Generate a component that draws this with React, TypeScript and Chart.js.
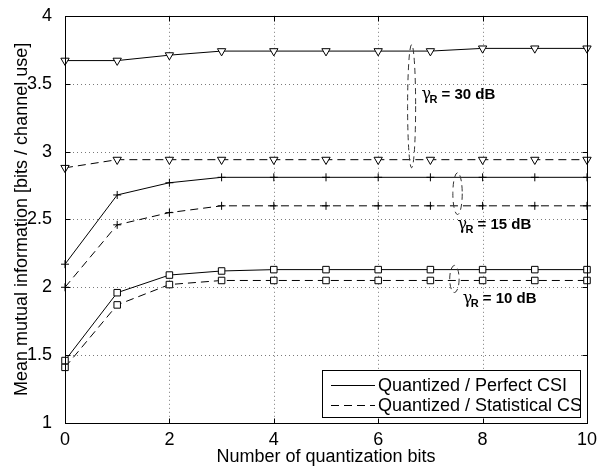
import React, { useEffect, useRef } from "react";
import { Chart, registerables } from "chart.js";

Chart.register(...registerables);

// ---- data ----
const bits = [0, 1, 2, 3, 4, 5, 6, 7, 8, 9, 10];
const perfect30 = [3.67, 3.67, 3.71, 3.74, 3.74, 3.74, 3.74, 3.74, 3.76, 3.76, 3.76];
const statistical30 = [2.88, 2.94, 2.94, 2.94, 2.94, 2.94, 2.94, 2.94, 2.94, 2.94, 2.94];
const perfect15 = [2.17, 2.68, 2.77, 2.81, 2.81, 2.81, 2.81, 2.81, 2.81, 2.81, 2.81];
const statistical15 = [2.0, 2.46, 2.55, 2.6, 2.6, 2.6, 2.6, 2.6, 2.6, 2.6, 2.6];
const perfect10 = [1.46, 1.96, 2.09, 2.12, 2.13, 2.13, 2.13, 2.13, 2.13, 2.13, 2.13];
const statistical10 = [1.41, 1.87, 2.02, 2.05, 2.05, 2.05, 2.05, 2.05, 2.05, 2.05, 2.05];
const legendLabels = ["Quantized / Perfect CSI", "Quantized / Statistical CS"];
const snrLabels = ["30 dB", "15 dB", "10 dB"];
const xTitle = "Number of quantization bits";
const yTitle = "Mean mutual information [bits / channel use]";

// annotation geometry (data units)
const ellipses = [
  { cx: 6.64, cy: 3.334, rx: 0.077, ry: 0.454 },
  { cx: 7.52, cy: 2.69, rx: 0.09, ry: 0.154 },
  { cx: 7.46, cy: 2.061, rx: 0.09, ry: 0.1 },
];
const labelAnchors = [
  { x: 6.83, y: 3.385 },
  { x: 7.52, y: 2.427 },
  { x: 7.62, y: 1.885 },
];

const FONT = "'Liberation Sans', Arial, Helvetica, sans-serif";
const DASH = [8, 5];

const mkSeries = (values: number[], dashed: boolean, style: string, radius: number, rotation = 0) => ({
  data: bits.map((b, i) => ({ x: b, y: values[i] })),
  borderColor: "#000",
  borderWidth: 1,
  borderDash: dashed ? DASH : [],
  pointStyle: style,
  pointRadius: radius,
  pointRotation: rotation,
  pointBorderColor: "#000",
  pointBackgroundColor: "#fff",
  pointBorderWidth: 1,
  tension: 0,
  clip: false as any,
});

const framePlugin = {
  id: "matlabFrame",
  beforeDatasetsDraw(chart: any) {
    const { ctx, chartArea: a, scales } = chart;
    ctx.save();
    ctx.strokeStyle = "#7a7a7a";
    ctx.lineWidth = 1;
    ctx.setLineDash([1, 3]);
    scales.x.ticks.forEach((t: any) => {
      const px = Math.round(scales.x.getPixelForValue(t.value)) + 0.5;
      if (px <= a.left + 1 || px >= a.right - 1) return;
      ctx.beginPath();
      ctx.moveTo(px, a.top);
      ctx.lineTo(px, a.bottom);
      ctx.stroke();
    });
    scales.y.ticks.forEach((t: any) => {
      const py = Math.round(scales.y.getPixelForValue(t.value)) + 0.5;
      if (py <= a.top + 1 || py >= a.bottom - 1) return;
      ctx.beginPath();
      ctx.moveTo(a.left, py);
      ctx.lineTo(a.right, py);
      ctx.stroke();
    });
    ctx.restore();
  },
  afterDatasetsDraw(chart: any) {
    const { ctx, chartArea: a, scales } = chart;
    const xs = scales.x;
    const ys = scales.y;
    ctx.save();
    // frame
    ctx.setLineDash([]);
    ctx.strokeStyle = "#000";
    ctx.lineWidth = 1;
    const L = Math.round(a.left) + 0.5;
    const R = Math.round(a.right) + 0.5;
    const T = Math.round(a.top) + 0.5;
    const B = Math.round(a.bottom) + 0.5;
    ctx.strokeRect(L, T, R - L, B - T);
    const tl = 5;
    ctx.beginPath();
    xs.ticks.forEach((t: any) => {
      const px = Math.round(xs.getPixelForValue(t.value)) + 0.5;
      ctx.moveTo(px, B);
      ctx.lineTo(px, B - tl);
      ctx.moveTo(px, T);
      ctx.lineTo(px, T + tl);
    });
    ys.ticks.forEach((t: any) => {
      const py = Math.round(ys.getPixelForValue(t.value)) + 0.5;
      ctx.moveTo(L, py);
      ctx.lineTo(L + tl, py);
      ctx.moveTo(R, py);
      ctx.lineTo(R - tl, py);
    });
    ctx.stroke();

    // ellipses
    ctx.strokeStyle = "#333";
    ctx.setLineDash([6, 4]);
    ellipses.forEach((e) => {
      const cx = xs.getPixelForValue(e.cx);
      const cy = ys.getPixelForValue(e.cy);
      const rx = Math.abs(xs.getPixelForValue(e.cx + e.rx) - cx);
      const ry = Math.abs(ys.getPixelForValue(e.cy + e.ry) - cy);
      ctx.beginPath();
      ctx.ellipse(cx, cy, rx, ry, 0, 0, Math.PI * 2);
      ctx.stroke();
    });
    ctx.setLineDash([]);

    // gamma labels
    ctx.fillStyle = "#000";
    ctx.textBaseline = "alphabetic";
    ctx.textAlign = "left";
    labelAnchors.forEach((p, i) => {
      const x = xs.getPixelForValue(p.x);
      const y = ys.getPixelForValue(p.y);
      ctx.font = `16px 'DejaVu Serif', 'Liberation Serif', serif`;
      ctx.fillText("\u03B3", x, y);
      ctx.font = `bold 11px ${FONT}`;
      ctx.fillText("R", x + 8, y + 4);
      ctx.font = `bold 15px ${FONT}`;
      ctx.fillText("= " + snrLabels[i], x + 20, y);
    });

    // legend
    const bx = 322.5, by = 370.5, bw = 258, bh = 47;
    ctx.fillStyle = "#fff";
    ctx.fillRect(bx, by, bw, bh);
    ctx.strokeStyle = "#000";
    ctx.lineWidth = 1;
    ctx.strokeRect(bx, by, bw, bh);
    ctx.save();
    ctx.beginPath();
    ctx.rect(bx, by, bw, bh);
    ctx.clip();
    const rows = [385.5, 405.5];
    rows.forEach((ry, i) => {
      ctx.setLineDash(i === 0 ? [] : DASH);
      ctx.beginPath();
      ctx.moveTo(331, ry);
      ctx.lineTo(375, ry);
      ctx.stroke();
      ctx.setLineDash([]);
      ctx.fillStyle = "#000";
      ctx.font = `18px ${FONT}`;
      ctx.textBaseline = "middle";
      ctx.fillText(legendLabels[i], 378, ry + 1);
    });
    ctx.restore();
    ctx.restore();
  },
};

export default function App() {
  const ref = useRef<HTMLCanvasElement>(null);
  useEffect(() => {
    if (!ref.current) return;
    const chart = new Chart(ref.current, {
      type: "line",
      data: {
        datasets: [
          mkSeries(perfect30, false, "triangle", 4.8, 180),
          mkSeries(statistical30, true, "triangle", 4.8, 180),
          mkSeries(perfect15, false, "cross", 4),
          mkSeries(statistical15, true, "cross", 4),
          mkSeries(perfect10, false, "rect", 4.6),
          mkSeries(statistical10, true, "rect", 4.6),
        ] as any,
      },
      options: {
        animation: false,
        responsive: true,
        maintainAspectRatio: false,
        layout: { padding: { top: 14, right: 17, bottom: 0, left: 0 } },
        plugins: { legend: { display: false }, tooltip: { enabled: false } },
        scales: {
          x: {
            type: "linear",
            min: 0,
            max: 10,
            ticks: { stepSize: 2, color: "#000", font: { family: FONT, size: 18 }, padding: -2, maxRotation: 0 },
            grid: { display: false },
            border: { display: false },
            title: { display: true, text: xTitle, color: "#000", font: { family: FONT, size: 18 }, padding: { top: 0, bottom: 0 } },
            afterFit: (s: any) => { s.height = 45; },
          },
          y: {
            type: "linear",
            min: 1,
            max: 4,
            ticks: {
              stepSize: 0.5,
              color: "#000",
              font: { family: FONT, size: 18 },
              padding: 5,
              callback: (v: any) => String(Number(v)),
            },
            grid: { display: false },
            border: { display: false },
            title: { display: true, text: yTitle, color: "#000", font: { family: FONT, size: 18 }, padding: { top: 11, bottom: 0 } },
            afterFit: (s: any) => { s.width = 65; },
          },
        },
      } as any,
      plugins: [framePlugin],
    });
    return () => chart.destroy();
  }, []);
  return (
    <div style={{ position: "fixed", left: 0, top: 0, width: 604, height: 468, background: "#fff" }}>
      <canvas ref={ref} />
    </div>
  );
}
